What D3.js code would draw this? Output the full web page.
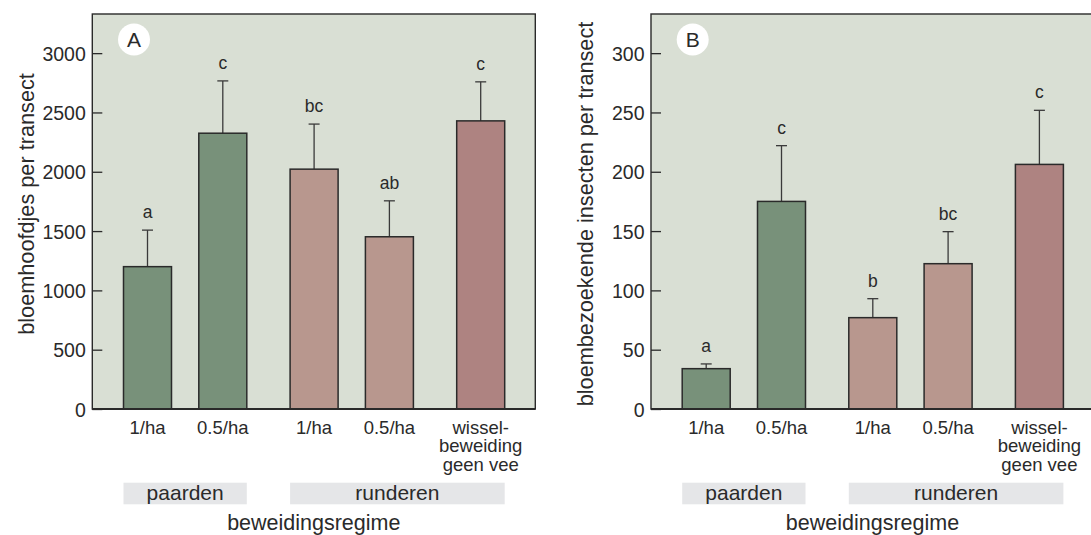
<!DOCTYPE html>
<html><head><meta charset="utf-8">
<script src="https://cdn.jsdelivr.net/npm/d3@7"></script>
<style>
html,body{margin:0;padding:0;background:#fff;}
svg{display:block;font-family:"Liberation Sans",Arial,Helvetica,sans-serif;}
</style></head>
<body><svg id="chart" width="1091" height="535"></svg>
<script>
// ---- data ----
const categoryLabels = [["1/ha"],["0.5/ha"],["1/ha"],["0.5/ha"],["wissel-","beweiding","geen vee"]];
const categoryIds = ["p1","p05","r1","r05","w"];
const clusters = [0,0,1,1,2];
const barTypes = ["paard","paard","rund","rund","wissel"];
const groupNames = ["paarden","runderen"];
const groupFirst = [0,2];
const groupLast = [1,4];

const flowerMeans = [1200, 2325, 2022, 1452, 2429];
const flowerUpper = [1508, 2766, 2402, 1755, 2758];
const flowerLetters = ["a","c","bc","ab","c"];
const flowerTicks = [0,500,1000,1500,2000,2500,3000];

const insectMeans = [34, 175, 77, 122.5, 206.2];
const insectUpper = [38, 222, 93, 149.5, 251.8];
const insectLetters = ["a","c","b","bc","c"];
const insectTicks = [0,50,100,150,200,250,300];

const panelLetters = ["A","B"];
const yTitles = ["bloemhoofdjes per transect","bloembezoekende insecten per transect"];
const xTitle = "beweidingsregime";

// ---- styles ----
const colors = {paard:"#78917a", rund:"#b8978e", wissel:"#ae8381"};
const bg = "#d9dfd4";
const ink = "#2a2a2a";

const svg = d3.select("#chart");

const panels = [
  {left:92.3, max:3330, means:flowerMeans, upper:flowerUpper, letters:flowerLetters, ticks:flowerTicks, titleY:204},
  {left:651, max:333, means:insectMeans, upper:insectUpper, letters:insectLetters, ticks:insectTicks, titleY:214}
];
const plotTop = 14, plotBottom = 409, plotW = 443;
const step = 75.3, bw = 48, gap = 16;

panels.forEach((p,pi)=>{
  const g = svg.append("g");
  const y = d3.scaleLinear().domain([0,p.max]).range([plotBottom, plotTop]);
  const x0 = 31.2 - (1-bw/step)/2*step;
  const xb = d3.scaleBand().domain(categoryIds).range([p.left + x0, p.left + x0 + 5*step])
      .paddingInner(1-bw/step).paddingOuter((1-bw/step)/2);
  const xl = (i)=> xb(categoryIds[i]) + clusters[i]*gap;
  const xc = (i)=> xl(i) + xb.bandwidth()/2;

  // background
  g.append("rect").attr("x",p.left).attr("y",plotTop).attr("width",plotW).attr("height",plotBottom-plotTop)
    .attr("fill",bg).attr("stroke",ink).attr("stroke-width",1.4);

  // y axis (ticks inward)
  const ax = g.append("g").attr("transform",`translate(${p.left},0)`)
    .call(d3.axisRight(y).tickValues(p.ticks).tickSize(10).tickFormat(d3.format("d")));
  ax.select(".domain").remove();
  ax.selectAll(".tick line").attr("stroke",ink).attr("stroke-width",1.3);
  ax.selectAll(".tick text").attr("x",-6.5).attr("text-anchor","end").attr("dy","0.36em")
    .attr("font-size",19.5).attr("fill",ink);

  // error bars
  const idx = d3.range(5);
  g.selectAll(".err").data(idx).join("line")
    .attr("x1",i=>xc(i)).attr("x2",i=>xc(i))
    .attr("y1",i=>y(p.means[i])).attr("y2",i=>y(p.upper[i]))
    .attr("stroke","#3a3a3a").attr("stroke-width",1.3);
  g.selectAll(".cap").data(idx).join("line")
    .attr("x1",i=>xc(i)-5.5).attr("x2",i=>xc(i)+5.5)
    .attr("y1",i=>y(p.upper[i])).attr("y2",i=>y(p.upper[i]))
    .attr("stroke","#3a3a3a").attr("stroke-width",1.3);

  // bars
  g.selectAll(".bar").data(idx).join("rect")
    .attr("x",i=>xl(i)).attr("width",xb.bandwidth())
    .attr("y",i=>y(p.means[i])).attr("height",i=>plotBottom-y(p.means[i]))
    .attr("fill",i=>colors[barTypes[i]]).attr("stroke",ink).attr("stroke-width",1.5);

  // significance letters
  g.selectAll(".sig").data(idx).join("text")
    .attr("x",i=>xc(i)).attr("y",i=>y(p.upper[i])-12)
    .attr("text-anchor","middle").attr("font-size",17.5).attr("fill",ink)
    .text(i=>p.letters[i]);

  // zero line
  g.append("line").attr("x1",p.left).attr("x2",p.left+plotW).attr("y1",plotBottom).attr("y2",plotBottom)
    .attr("stroke",ink).attr("stroke-width",2);

  // panel letter
  g.append("circle").attr("cx",p.left+41.7).attr("cy",39.5).attr("r",16).attr("fill","#fff");
  g.append("text").attr("x",p.left+41.7).attr("y",39.5).attr("dy","0.36em").attr("text-anchor","middle")
    .attr("font-size",21).attr("fill",ink).text(panelLetters[pi]);

  // category labels
  idx.forEach(i=>{
    const t = g.append("text").attr("text-anchor","middle").attr("font-size",18.5).attr("fill",ink);
    categoryLabels[i].forEach((ln,k)=>{
      t.append("tspan").attr("x",xc(i)).attr("y",433.5 + k*18.8).text(ln);
    });
  });

  // group boxes
  groupNames.forEach((nm,k)=>{
    const x1 = xl(groupFirst[k]), x2 = xl(groupLast[k]) + xb.bandwidth();
    g.append("rect").attr("x",x1).attr("y",482.7).attr("width",x2-x1).attr("height",21.6).attr("fill","#e5e6e8");
    g.append("text").attr("x",(x1+x2)/2).attr("y",500).attr("text-anchor","middle")
      .attr("font-size",21).attr("fill",ink).text(nm);
  });

  // x title
  g.append("text").attr("x",p.left+plotW/2).attr("y",530).attr("text-anchor","middle")
    .attr("font-size",21.5).attr("fill",ink).text(xTitle);

  // y title
  g.append("text").attr("transform",`translate(${p.left-58.5},${p.titleY}) rotate(-90)`)
    .attr("text-anchor","middle").attr("font-size",21.7).attr("fill",ink).text(yTitles[pi]);
});
</script>
</body></html>
